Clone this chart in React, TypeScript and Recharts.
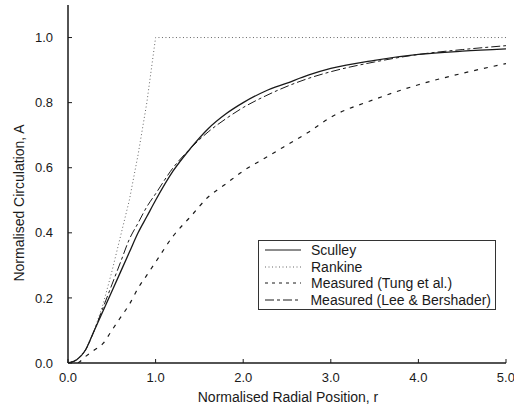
import { LineChart, Line, XAxis, YAxis, Label } from "recharts";

const rGrid = [0, 0.1, 0.2, 0.3, 0.4, 0.5, 0.6, 0.7, 0.8, 0.9, 1.0, 1.2, 1.4, 1.6, 1.8, 2.0, 2.25, 2.5, 2.75, 3.0, 3.5, 4.0, 4.5, 5.0];
const sculley = [0, 0.01, 0.04, 0.1, 0.16, 0.22, 0.28, 0.34, 0.4, 0.45, 0.5, 0.59, 0.66, 0.72, 0.765, 0.8, 0.835, 0.86, 0.885, 0.905, 0.93, 0.948, 0.958, 0.965];
const leeBershader = [0, 0.01, 0.04, 0.1, 0.17, 0.24, 0.31, 0.38, 0.43, 0.48, 0.52, 0.6, 0.66, 0.71, 0.75, 0.785, 0.82, 0.85, 0.875, 0.895, 0.925, 0.948, 0.963, 0.975];
const tung = [0, 0, 0.02, 0.04, 0.06, 0.1, 0.14, 0.18, 0.23, 0.27, 0.31, 0.39, 0.45, 0.51, 0.55, 0.59, 0.63, 0.67, 0.71, 0.755, 0.81, 0.855, 0.89, 0.92];

const rankineR = [0, 0.1, 0.2, 0.3, 0.4, 0.5, 0.6, 0.7, 0.8, 0.9, 1.0, 5.0];
const rankineA = [0, 0.01, 0.04, 0.1, 0.18, 0.28, 0.39, 0.5, 0.64, 0.8, 1.0, 1.0];

const xTicks = [0, 1, 2, 3, 4, 5];
const yTicks = [0, 0.2, 0.4, 0.6, 0.8, 1.0];

const data = rGrid.map((r, i) => ({ r, sculley: sculley[i], lee: leeBershader[i], tung: tung[i] }));
const rankineData = rankineR.map((r, i) => ({ r, rankine: rankineA[i] }));

const font = "'Liberation Sans', Arial, sans-serif";
const ink = "#1a1a1a";

const legendItems = [
  { name: "Sculley", dash: undefined, color: ink },
  { name: "Rankine", dash: "1 2.5", color: "#666" },
  { name: "Measured (Tung et al.)", dash: "3 4", color: ink },
  { name: "Measured (Lee & Bershader)", dash: "9 3 3 3", color: ink },
];

// legend drawn on top of the chart, like the boxed key in the scan
function LegendBox() {
  return (
    <div
      style={{
        position: "absolute",
        left: 258,
        top: 240,
        width: 238,
        boxSizing: "border-box",
        border: "1px solid #333",
        background: "#fff",
        padding: "1px 4px",
        fontFamily: font,
        fontSize: 14,
        color: ink,
        lineHeight: "16.5px",
        whiteSpace: "nowrap",
      }}
    >
      {legendItems.map((it) => (
        <div key={it.name} style={{ display: "flex", alignItems: "center" }}>
          <svg width={38} height={10} style={{ marginRight: 10 }}>
            <line x1={2} y1={5} x2={38} y2={5} stroke={it.color} strokeWidth={1} strokeDasharray={it.dash} />
          </svg>
          <span>{it.name}</span>
        </div>
      ))}
    </div>
  );
}

export default function App() {
  return (
    <div style={{ position: "absolute", left: 0, top: 0, width: 514, height: 407, background: "#fff" }}>
      <LineChart width={514} height={407} margin={{ top: 5, right: 8, left: 0, bottom: 0 }}>
        <XAxis
          dataKey="r"
          type="number"
          domain={[0, 5]}
          ticks={xTicks}
          tickFormatter={(v: number) => v.toFixed(1)}
          allowDataOverflow
          height={44}
          axisLine={{ stroke: ink, strokeWidth: 1.5 }}
          tickLine={{ stroke: ink }}
          tickSize={-4}
          tickMargin={14}
          tick={{ fontSize: 13, fontFamily: font, fill: ink }}
        >
          <Label
            content={() => (
              <text x={288} y={397} textAnchor="middle" dominantBaseline="central" fontSize={14} fontFamily={font} fill={ink}>
                Normalised Radial Position, r
              </text>
            )}
          />
        </XAxis>
        <YAxis
          type="number"
          domain={[0, 1.1]}
          ticks={yTicks}
          tickFormatter={(v: number) => v.toFixed(1)}
          allowDataOverflow
          width={68}
          axisLine={{ stroke: ink, strokeWidth: 1.5 }}
          tickLine={{ stroke: ink }}
          tickSize={-4}
          tickMargin={19}
          tick={{ fontSize: 13, fontFamily: font, fill: ink }}
        >
          <Label
            content={() => (
              <text
                x={19}
                y={203}
                transform="rotate(-90 19 203)"
                textAnchor="middle"
                dominantBaseline="central"
                fontSize={14}
                fontFamily={font}
                fill={ink}
              >
                Normalised Circulation, A
              </text>
            )}
          />
        </YAxis>
        <Line data={rankineData} dataKey="rankine" name="Rankine" type="linear" stroke="#666" strokeWidth={1} strokeDasharray="1 2.5" dot={false} isAnimationActive={false} />
        <Line data={data} dataKey="tung" name="Measured (Tung et al.)" type="monotone" stroke={ink} strokeWidth={1.2} strokeDasharray="4 6" dot={false} isAnimationActive={false} />
        <Line data={data} dataKey="lee" name="Measured (Lee & Bershader)" type="monotone" stroke={ink} strokeWidth={1} strokeDasharray="9 3 3 3" dot={false} isAnimationActive={false} />
        <Line data={data} dataKey="sculley" name="Sculley" type="monotone" stroke={ink} strokeWidth={1.3} dot={false} isAnimationActive={false} />
      </LineChart>
      <LegendBox />
    </div>
  );
}
